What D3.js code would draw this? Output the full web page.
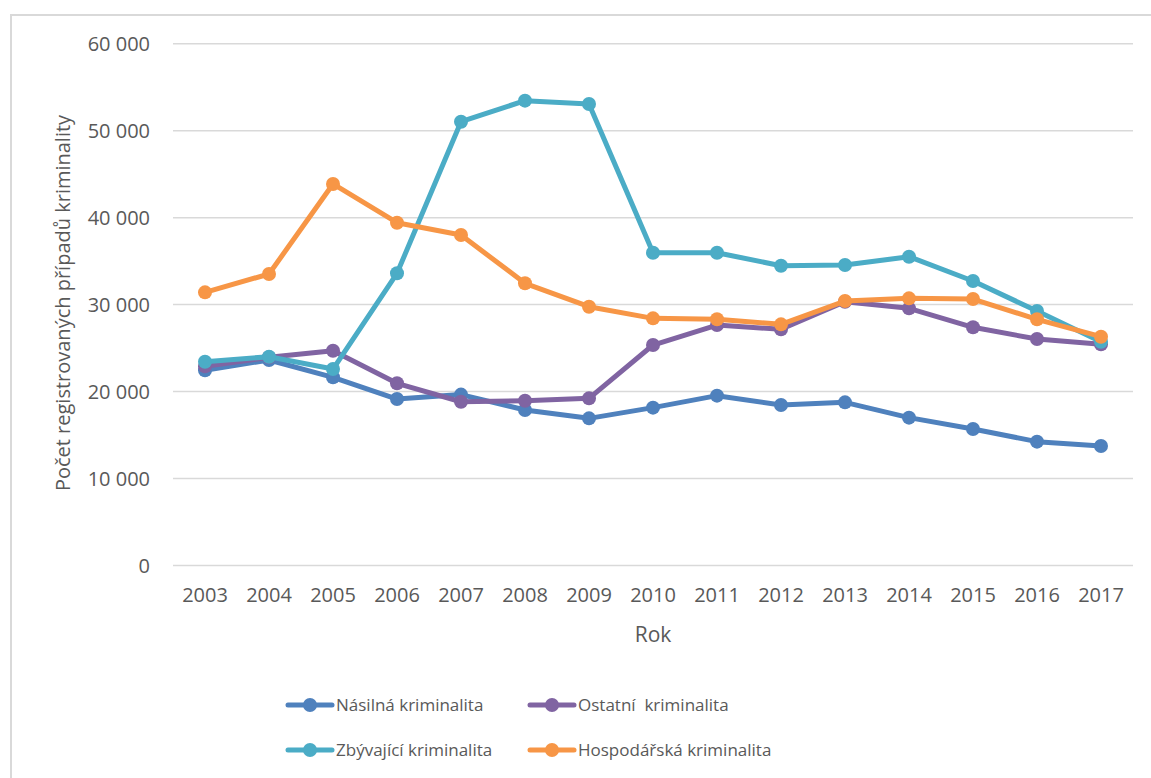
<!DOCTYPE html>
<html>
<head>
<meta charset="utf-8">
<script src="https://cdn.jsdelivr.net/npm/d3@7"></script>
<style>
  body { margin: 0; background: #fff; }
  svg text { font-family: "Open Sans", sans-serif; fill: #595959; white-space: pre; }
</style>
</head>
<body>
<svg id="chart" width="1151" height="778"></svg>
<script>
const years = ["2003","2004","2005","2006","2007","2008","2009","2010","2011","2012","2013","2014","2015","2016","2017"];
const yTicks = [0, 10000, 20000, 30000, 40000, 50000, 60000];

const nasilna     = [22450, 23630, 21640, 19140, 19650, 17880, 16920, 18150, 19530, 18450, 18760, 17000, 15700, 14240, 13740];
const ostatni     = [22900, 23940, 24700, 20950, 18830, 18950, 19220, 25350, 27650, 27160, 30330, 29570, 27390, 26040, 25430];
const zbyvajici   = [23430, 24010, 22590, 33600, 51030, 53450, 53070, 35970, 35970, 34470, 34550, 35510, 32710, 29260, 25730];
const hospodarska = [31410, 33520, 43870, 39420, 38000, 32450, 29760, 28420, 28310, 27730, 30410, 30720, 30640, 28310, 26310];

const seriesNames  = ["Násilná kriminalita", "Ostatní  kriminalita", "Zbývající kriminalita", "Hospodářská kriminalita"];
const seriesColors = ["#4f81bd", "#8064a2", "#4bacc6", "#f79646"];
const seriesValues = [nasilna, ostatni, zbyvajici, hospodarska];

const svg = d3.select("#chart");
const margin = { left: 173, right: 1133, top: 43.7, bottom: 565.5 };

// outer chart frame (only top and left edges visible)
svg.append("path")
  .attr("d", "M11,778 L11,15 L1151,15")
  .attr("fill", "none")
  .attr("stroke", "#d9d9d9")
  .attr("stroke-width", 2);

const x = d3.scaleBand().domain(years).range([margin.left, margin.right]);
const y = d3.scaleLinear().domain([0, 60000]).range([margin.bottom, margin.top]);

// gridlines
svg.append("g")
  .selectAll("line")
  .data(yTicks)
  .enter().append("line")
  .attr("x1", margin.left)
  .attr("x2", margin.right)
  .attr("y1", d => y(d))
  .attr("y2", d => y(d))
  .attr("stroke", "#d9d9d9")
  .attr("stroke-width", 1.5);

const fmt = d => d === 0 ? "0" : d3.format(",")(d).replace(",", " ");

// y tick labels
svg.append("g")
  .selectAll("text")
  .data(yTicks)
  .enter().append("text")
  .attr("x", 150)
  .attr("y", d => y(d))
  .attr("dy", "0.35em")
  .attr("text-anchor", "end")
  .style("font-size", "20px")
  .text(fmt);

// x tick labels
svg.append("g")
  .selectAll("text")
  .data(years)
  .enter().append("text")
  .attr("x", d => x(d) + x.bandwidth() / 2)
  .attr("y", 595)
  .attr("dy", "0.35em")
  .attr("text-anchor", "middle")
  .style("font-size", "20px")
  .text(d => d);

// axis titles
svg.append("text")
  .attr("x", (margin.left + margin.right) / 2)
  .attr("y", 635)
  .attr("dy", "0.35em")
  .attr("text-anchor", "middle")
  .style("font-size", "21px")
  .text("Rok");

svg.append("text")
  .attr("transform", "translate(63,303) rotate(-90)")
  .attr("dy", "0.35em")
  .attr("text-anchor", "middle")
  .style("font-size", "20px")
  .text("Počet registrovaných případů kriminality");

// series
const line = d3.line()
  .x((d, i) => x(years[i]) + x.bandwidth() / 2)
  .y(d => y(d));

seriesValues.forEach((vals, s) => {
  const g = svg.append("g");
  g.append("path")
    .datum(vals)
    .attr("d", line)
    .attr("fill", "none")
    .attr("stroke", seriesColors[s])
    .attr("stroke-width", 5)
    .attr("stroke-linejoin", "round")
    .attr("stroke-linecap", "round");
  g.selectAll("circle")
    .data(vals)
    .enter().append("circle")
    .attr("cx", (d, i) => x(years[i]) + x.bandwidth() / 2)
    .attr("cy", d => y(d))
    .attr("r", 7)
    .attr("fill", seriesColors[s]);
});

// legend
const legendPos = [[288, 705], [530, 705], [288, 750], [530, 750]];
seriesNames.forEach((name, s) => {
  const [lx, ly] = legendPos[s];
  const g = svg.append("g").attr("transform", `translate(${lx},${ly})`);
  g.append("line")
    .attr("x1", 0).attr("x2", 44)
    .attr("stroke", seriesColors[s])
    .attr("stroke-width", 5)
    .attr("stroke-linecap", "round");
  g.append("circle")
    .attr("cx", 22).attr("r", 7)
    .attr("fill", seriesColors[s]);
  g.append("text")
    .attr("x", 48)
    .attr("dy", "0.35em")
    .style("font-size", "17px")
    .text(name);
});
</script>
</body>
</html>
